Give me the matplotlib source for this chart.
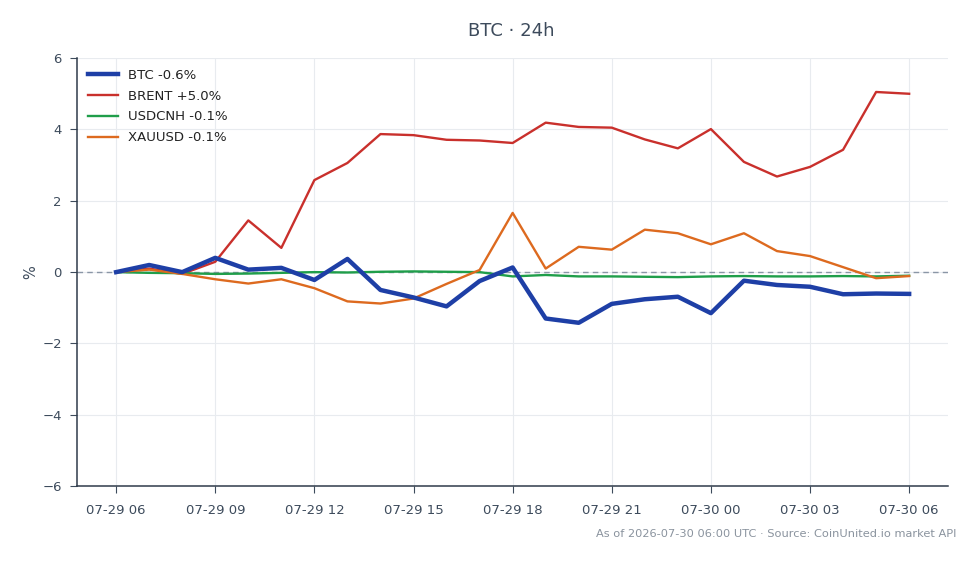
import numpy as np
import pandas as pd
import matplotlib
matplotlib.use("Agg")
import matplotlib.pyplot as plt
import matplotlib.dates as mdates

# hourly % change over last 24h
times = pd.date_range("2026-07-29 06:00", "2026-07-30 06:00", freq="h")

btc = [0.0, 0.2, 0.0, 0.4, 0.07, 0.12, -0.22, 0.37, -0.5, -0.71, -0.96,
       -0.25, 0.13, -1.3, -1.42, -0.89, -0.76, -0.69, -1.15, -0.24, -0.36,
       -0.41, -0.62, -0.6, -0.61]
brent = [0.0, 0.1, -0.05, 0.29, 1.45, 0.68, 2.58, 3.06, 3.87, 3.84, 3.71,
         3.69, 3.62, 4.19, 4.07, 4.05, 3.72, 3.47, 4.01, 3.09, 2.68, 2.95,
         3.43, 5.05, 5.0]
usdcnh = [0.0, -0.02, -0.03, -0.05, -0.04, -0.02, 0.0, -0.01, 0.01, 0.02,
          0.01, 0.0, -0.12, -0.08, -0.12, -0.12, -0.13, -0.14, -0.12, -0.11,
          -0.12, -0.12, -0.11, -0.12, -0.1]
xauusd = [0.0, 0.07, -0.05, -0.2, -0.32, -0.2, -0.45, -0.82, -0.88, -0.74,
          -0.33, 0.06, 1.66, 0.1, 0.71, 0.63, 1.19, 1.09, 0.78, 1.09, 0.59,
          0.45, 0.14, -0.17, -0.11]

labels = ["BTC -0.6%", "BRENT +5.0%", "USDCNH -0.1%", "XAUUSD -0.1%"]
colors = ["#1e3fa6", "#c9302c", "#1f9e4a", "#dd6a1f"]

text_c = "#3d4b5c"
fig = plt.figure(figsize=(9.8, 5.64), dpi=100)
ax = fig.add_axes([0.0786, 0.138, 0.889, 0.759])

ax.axhline(0, color="#8a96a6", lw=1, ls=(0, (4, 3)), zorder=1)
ax.plot(times, btc, color=colors[0], lw=3.2, label=labels[0], zorder=5)
ax.plot(times, brent, color=colors[1], lw=1.7, label=labels[1], zorder=3)
ax.plot(times, usdcnh, color=colors[2], lw=1.7, label=labels[2], zorder=3)
ax.plot(times, xauusd, color=colors[3], lw=1.7, label=labels[3], zorder=4)

ax.set_ylim(-6, 6)
ax.set_yticks(np.arange(-6, 7, 2))
pad = pd.Timedelta(minutes=71)
ax.set_xlim(times[0] - pad, times[-1] + pad)
ax.xaxis.set_major_locator(mdates.HourLocator(byhour=range(0, 24, 3)))
ax.xaxis.set_major_formatter(mdates.DateFormatter("%m-%d %H"))

ax.grid(True, color="#e8ebef", lw=0.8)
ax.set_axisbelow(True)
for s in ["top", "right"]:
    ax.spines[s].set_visible(False)
for s in ["left", "bottom"]:
    ax.spines[s].set_color("#2f3b4a")
    ax.spines[s].set_linewidth(1.1)
ax.tick_params(colors=text_c, labelsize=9.5, length=5, pad=6)
ax.tick_params(axis="x", pad=8)
ax.set_ylabel("%", color=text_c, fontsize=10.5, labelpad=3)

leg = ax.legend(loc="upper left", frameon=False, fontsize=9.5,
                handlelength=2.3, handletextpad=0.75, labelspacing=0.6,
                borderaxespad=0.4, bbox_to_anchor=(0.0, 1.0))
for t in leg.get_texts():
    t.set_color("#222222")

fig.text(0.522, 0.945, "BTC · 24h", ha="center", va="center",
         fontsize=13, color=text_c)
fig.text(0.976, 0.053, "As of 2026-07-30 06:00 UTC · Source: CoinUnited.io market API",
         ha="right", va="center", fontsize=8.2, color="#8a939e")

fig.savefig("out.png", dpi=100)
